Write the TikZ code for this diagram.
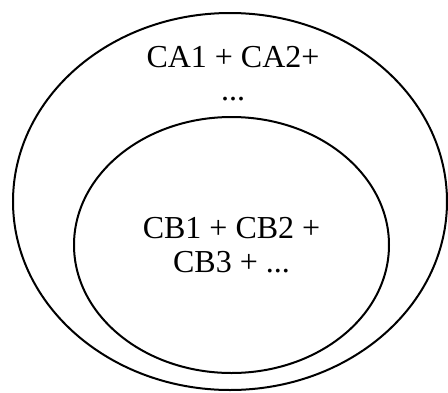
\documentclass[tikz,border=0pt]{standalone}
\usepackage{fontspec}
\setmainfont{Liberation Serif}
\usetikzlibrary{shapes.geometric}
\begin{document}
\begin{tikzpicture}[x=1pt,y=-1pt,
  set/.style={draw,line width=2pt,ellipse,inner sep=0pt},
  lbl/.style={font=\fontsize{32}{34}\selectfont,align=center,inner sep=0pt}]
\useasboundingbox (0,0) rectangle (448,392);
\node[set,minimum width=434pt,minimum height=377pt] (outer) at (230,201.5) {};
\node[set,minimum width=315pt,minimum height=256pt] (inner) at (231.5,245) {};
\node[lbl,anchor=base] (ta) at (233,67) {CA1 + CA2+};
\node[lbl,anchor=base] (tb) at (233,100) {...};
\node[lbl,anchor=base] (ba) at (231.5,238) {CB1 + CB2 +};
\node[lbl,anchor=base] (bb) at (231.5,272) {CB3 + ...};
\end{tikzpicture}
\end{document}
